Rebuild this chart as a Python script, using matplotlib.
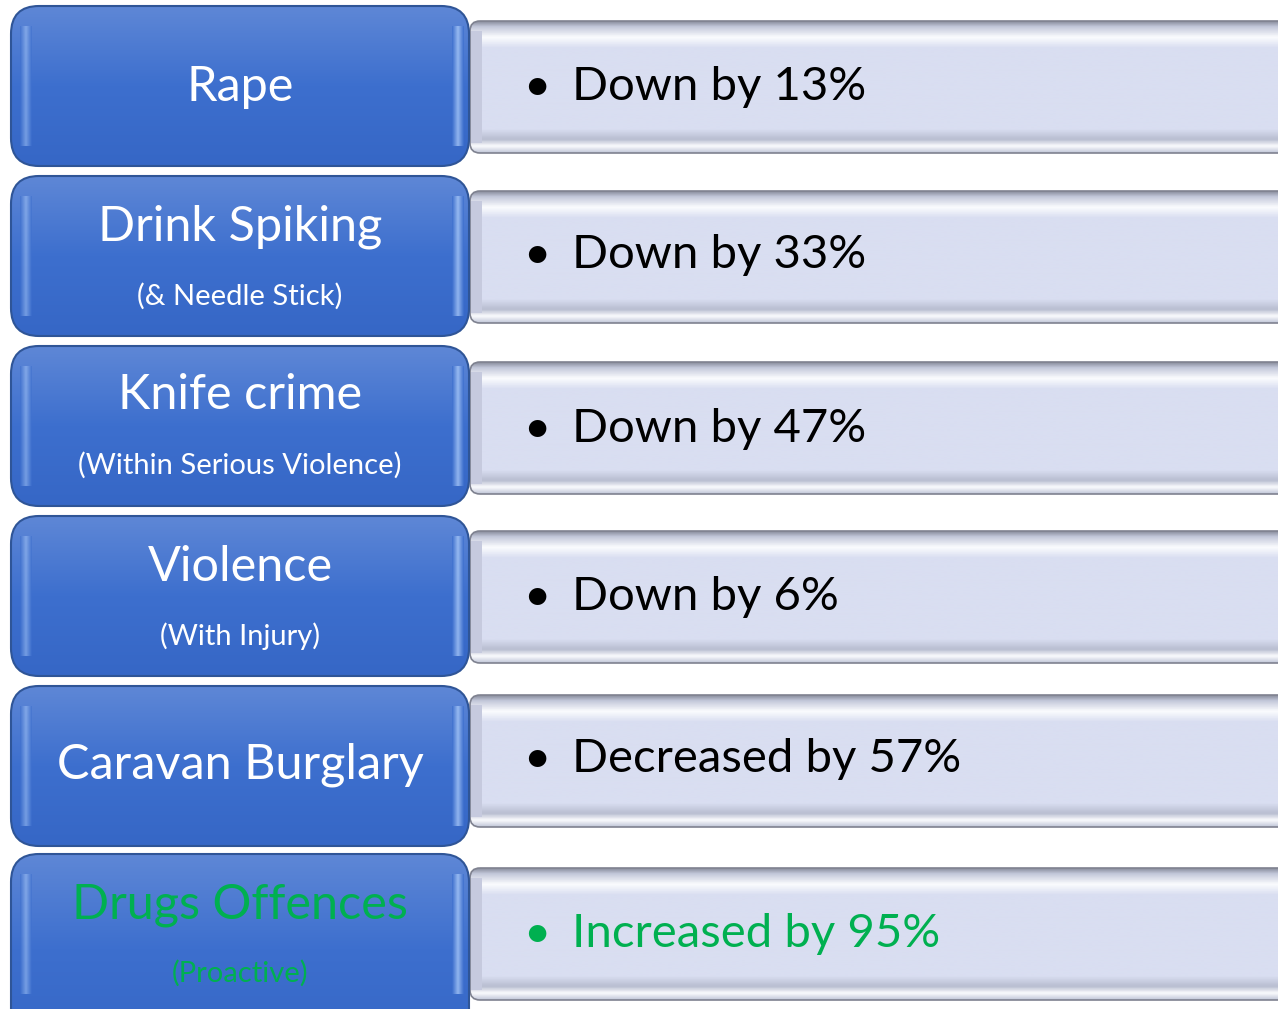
import numpy as np
import matplotlib.pyplot as plt
from matplotlib.patches import FancyBboxPatch, Rectangle

# crime categories and the change reported for each
categories = ["Rape", "Drink Spiking", "Knife crime", "Violence", "Caravan Burglary", "Drugs Offences"]
subtitles = ["", "(& Needle Stick)", "(Within Serious Violence)", "(With Injury)", "", "(Proactive)"]
changes = ["Down by 13%", "Down by 33%", "Down by 47%", "Down by 6%", "Decreased by 57%", "Increased by 95%"]
highlight = [False, False, False, False, False, True]

W, H = 1278, 1009
fig = plt.figure(figsize=(W / 100, H / 100), dpi=100)
ax = fig.add_axes([0, 0, 1, 1])
ax.set_xlim(0, W)
ax.set_ylim(H, 0)
ax.axis("off")

font = "Lato"
green = "#00b050"

box_top = [6, 176, 346, 516, 686, 854]
box_h = [160, 160, 160, 160, 160, 190]
panel_top = [21, 191, 362, 531, 695, 868]
panel_h = 132
main_y = [87, 227, 395, 567, 765, 905]
sub_y = [None, 296, 465, 636, None, 973]
text_y = [87, 255, 429, 597, 759, 934]

blue_grad = np.linspace(0, 1, 100).reshape(-1, 1)
blue_cmap = plt.matplotlib.colors.LinearSegmentedColormap.from_list("b", ["#5e87d6", "#3d6fce", "#3667c6"])
panel_cmap = plt.matplotlib.colors.LinearSegmentedColormap.from_list(
    "p", [(0, "#8c90a0"), (0.04, "#c3c8da"), (0.12, "#fbfcfe"), (0.2, "#d9def1"),
          (0.82, "#d9def1"), (0.9, "#b8bdd0"), (0.95, "#fbfcfe"), (1, "#c3c8da")])
glint_cmap = plt.matplotlib.colors.LinearSegmentedColormap.from_list("g", ["#3d6fce", "#a8c8f8", "#3d6fce"])

for i, cat in enumerate(categories):
    # right panel
    py = panel_top[i]
    pan = FancyBboxPatch((470, py), 820, panel_h, boxstyle="round,pad=0,rounding_size=10",
                         fc="none", ec="#7f8290", lw=1.2, zorder=2)
    ax.add_patch(pan)
    im = ax.imshow(np.linspace(0, 1, 200).reshape(-1, 1), cmap=panel_cmap, aspect="auto",
                   extent=(470, 1290, py + panel_h, py), zorder=1)
    im.set_clip_path(pan)
    # left bevel edge of panel
    side = Rectangle((470, py + 10), 12, panel_h - 20, fc="#c6cade", ec="none", zorder=1.5)
    ax.add_patch(side)
    side.set_clip_path(pan)

    # blue box
    by = box_top[i]
    bh = box_h[i]
    box = FancyBboxPatch((11, by), 458, bh, boxstyle="round,pad=0,rounding_size=28",
                         fc="none", ec="#2f5597", lw=1.5, zorder=4)
    ax.add_patch(box)
    im2 = ax.imshow(blue_grad, cmap=blue_cmap, aspect="auto",
                    extent=(11, 469, by + bh, by), zorder=3)
    im2.set_clip_path(box)
    # soft light glints along the side edges
    for x0, a in ((20, 0.55), (452, 0.8)):
        gl = ax.imshow(np.linspace(0, 1, 20).reshape(1, -1), cmap=glint_cmap, aspect="auto",
                       extent=(x0, x0 + 12, by + 140, by + 20), zorder=3.5, alpha=a)
        gl.set_clip_path(box)

    col = green if highlight[i] else "white"
    ax.text(240, main_y[i], cat, color=col, fontsize=35, family=font,
            ha="center", va="center", zorder=5)
    if subtitles[i]:
        ax.text(240, sub_y[i], subtitles[i], color=col, fontsize=21, family=font,
                ha="center", va="center", zorder=5)

    tcol = green if highlight[i] else "black"
    ax.text(537, text_y[i], "\u2022", color=tcol, fontsize=34, family=font,
            ha="center", va="center", zorder=5)
    ax.text(572, text_y[i], changes[i], color=tcol, fontsize=34, family=font,
            ha="left", va="center", zorder=5)

fig.savefig("out.png", dpi=100)
